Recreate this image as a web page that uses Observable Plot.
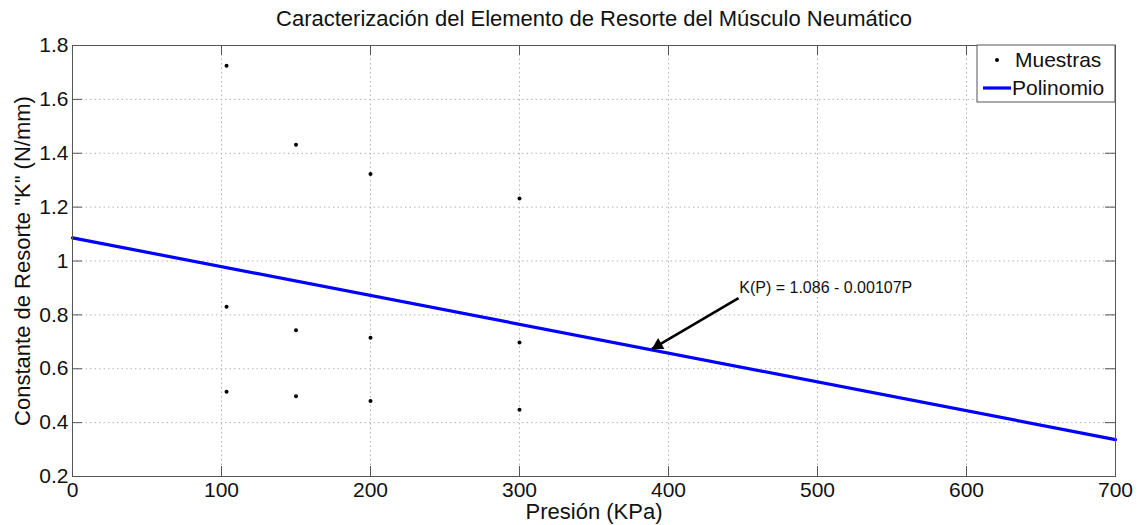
<!DOCTYPE html>
<html>
<head>
<meta charset="utf-8">
<script src="https://cdn.jsdelivr.net/npm/d3@7"></script>
<script src="https://cdn.jsdelivr.net/npm/@observablehq/plot@0.6"></script>
<style>
  html, body { margin: 0; padding: 0; background: white; }
  #chart svg { display: block; }
</style>
</head>
<body>
<div id="chart"></div>
<script>
// ---- data ----
const titleText = "Caracterización del Elemento de Resorte del Músculo Neumático";
const xLabelText = "Presión (KPa)";
const yLabelText = "Constante de Resorte \"K\" (N/mm)";

const xTicks = [0, 100, 200, 300, 400, 500, 600, 700];
const xTickLabels = ["0", "100", "200", "300", "400", "500", "600", "700"];
const yTicks = [0.2, 0.4, 0.6, 0.8, 1.0, 1.2, 1.4, 1.6, 1.8];
const yTickLabels = ["0.2", "0.4", "0.6", "0.8", "1", "1.2", "1.4", "1.6", "1.8"];

const samplePressure = [103.4, 103.4, 103.4, 150, 150, 150, 200, 200, 200, 300, 300, 300];
const sampleK = [1.725, 0.830, 0.515, 1.432, 0.743, 0.498, 1.323, 0.715, 0.480, 1.232, 0.697, 0.448];

const fitPressure = [0, 700];
const fitK = [1.086, 0.337];

const annotationText = "K(P) = 1.086 - 0.00107P";
const annotationTextPos = [447.5, 0.902];
const arrowFrom = [447, 0.862];
const arrowTo = [389, 0.674];

const legendLabels = ["Muestras", "Polinomio"];

// ---- derived tables ----
const samples = samplePressure.map((p, i) => ({p, k: sampleK[i]}));
const fit = fitPressure.map((p, i) => ({p, k: fitK[i]}));

const xMin = xTicks[0], xMax = xTicks[xTicks.length - 1];
const yMin = yTicks[0], yMax = yTicks[yTicks.length - 1];
const tickLen = 10;
const frameColor = "#555";
const textColor = "#111";
const font = "'Liberation Sans', Arial, sans-serif";
const gridStyle = {stroke: "#b4b4b4", strokeOpacity: 1, strokeDasharray: "1.5,3", strokeWidth: 1};

const chart = Plot.plot({
  width: 1145,
  height: 525,
  marginLeft: 72,
  marginRight: 30,
  marginTop: 45,
  marginBottom: 49,
  x: {domain: [xMin, xMax]},
  y: {domain: [yMin, yMax]},
  style: {fontFamily: font, background: "white", color: textColor},
  marks: [
    Plot.gridX(xTicks, gridStyle),
    Plot.gridY(yTicks, gridStyle),
    Plot.line(fit, {x: "p", y: "k", stroke: "#0000ff", strokeWidth: 3.2}),
    Plot.dot(samples, {x: "p", y: "k", r: 2, fill: "black", stroke: "none"}),
    // annotation arrow: shaft + filled head
    Plot.link([0], {
      x1: () => arrowFrom[0], y1: () => arrowFrom[1],
      x2: () => arrowTo[0], y2: () => arrowTo[1],
      stroke: "black", strokeWidth: 2.6
    }),
    Plot.dot([0], {
      x: () => arrowTo[0], y: () => arrowTo[1],
      symbol: "triangle2", r: 6, fill: "black", stroke: "none",
      rotate: 240, dx: 6, dy: -3.5
    }),
    Plot.text([annotationText], {
      x: () => annotationTextPos[0], y: () => annotationTextPos[1],
      text: d => d, textAnchor: "start", fontSize: 16, fill: textColor
    }),
    Plot.frame({stroke: frameColor, strokeWidth: 1}),
    // inward tick marks on all four sides
    Plot.ruleX(xTicks, {x: d => d, y1: yMin, y2: yMin, insetTop: -tickLen, insetBottom: 0, stroke: frameColor}),
    Plot.ruleX(xTicks, {x: d => d, y1: yMax, y2: yMax, insetBottom: -tickLen, insetTop: 0, stroke: frameColor}),
    Plot.ruleY(yTicks, {y: d => d, x1: xMin, x2: xMin, insetRight: -tickLen, insetLeft: 0, stroke: frameColor}),
    Plot.ruleY(yTicks, {y: d => d, x1: xMax, x2: xMax, insetLeft: -tickLen, insetRight: 0, stroke: frameColor}),
    Plot.axisX({ticks: xTicks, tickSize: 0, tickPadding: 6, fontSize: 21, label: null,
      tickFormat: d => xTickLabels[xTicks.indexOf(d)]}),
    Plot.axisY({ticks: yTicks, tickSize: 0, tickPadding: 4, fontSize: 21, label: null,
      tickFormat: d => yTickLabels[yTicks.findIndex(t => Math.abs(t - d) < 1e-9)]}),
    Plot.text([titleText], {frameAnchor: "top", dy: -27, lineAnchor: "middle", fontSize: 22, text: d => d, fill: textColor, textAnchor: "middle"}),
    Plot.text([xLabelText], {frameAnchor: "bottom", dy: 35, lineAnchor: "middle", fontSize: 22, text: d => d, fill: textColor, textAnchor: "middle"}),
    Plot.text([yLabelText], {frameAnchor: "left", dx: -50, rotate: -90, lineAnchor: "middle", fontSize: 22, text: d => d, fill: textColor, textAnchor: "middle"})
  ]
});

document.getElementById("chart").appendChild(chart);

// ---- legend (inside the axes, top-right) ----
const svg = d3.select(chart);
const lg = svg.append("g")
  .attr("font-family", font).attr("font-size", 21).attr("text-anchor", "start");
lg.append("rect").attr("x", 977).attr("y", 45).attr("width", 138).attr("height", 57)
  .attr("fill", "white").attr("stroke", frameColor);
lg.append("circle").attr("cx", 997).attr("cy", 60).attr("r", 2).attr("fill", "black");
lg.append("line").attr("x1", 983).attr("x2", 1011).attr("y1", 88).attr("y2", 88)
  .attr("stroke", "#0000ff").attr("stroke-width", 3.2);
lg.append("text").attr("x", 1015).attr("y", 60).attr("dy", "0.35em").attr("fill", textColor)
  .attr("text-anchor", "start").text(legendLabels[0]);
lg.append("text").attr("x", 1012).attr("y", 88).attr("dy", "0.35em").attr("fill", textColor)
  .attr("text-anchor", "start").text(legendLabels[1]);
</script>
</body>
</html>
